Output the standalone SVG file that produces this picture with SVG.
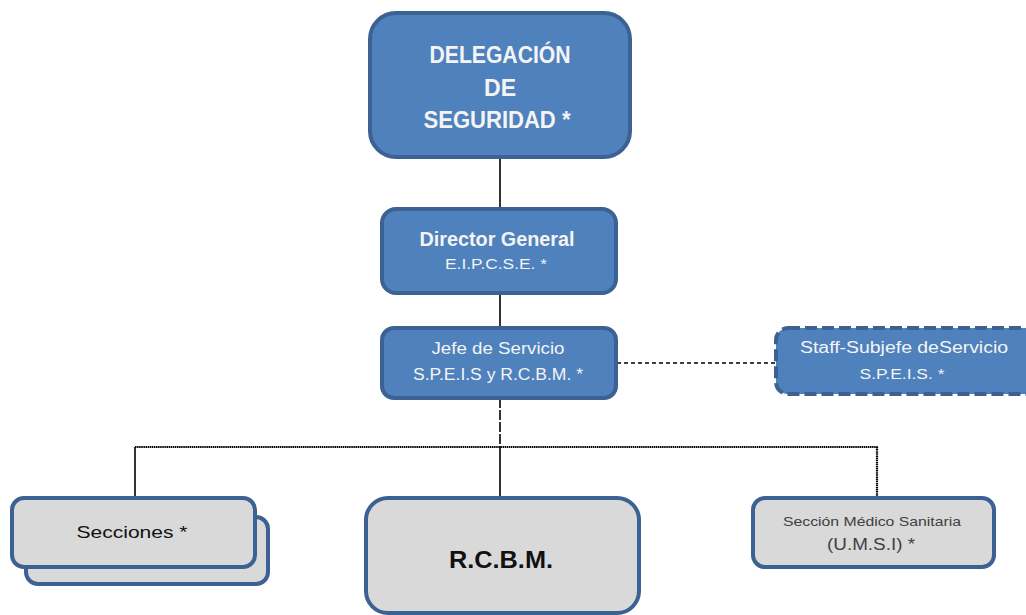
<svg xmlns="http://www.w3.org/2000/svg" width="1026" height="615" viewBox="0 0 1026 615">
<style>
.blue{fill:#4f81bd;stroke:#3b6293;stroke-width:4}
.gray{fill:#d9d9d9;stroke:#3b6293;stroke-width:4}
.ln{stroke:#000;stroke-width:1.6;fill:none}
.dot{stroke:#000;stroke-width:2.2;fill:none;stroke-dasharray:1.5 0.6}
.w{fill:#f4f4f4;font-family:"Liberation Sans",Arial,sans-serif;text-anchor:middle}
.k{fill:#111;font-family:"Liberation Sans",Arial,sans-serif;text-anchor:middle}
.b{font-weight:bold}
</style>
<rect width="1026" height="615" fill="#fff"/>
<g id="connectors">
<line class="ln" x1="500" y1="158" x2="500" y2="208"/>
<line class="ln" x1="500" y1="294" x2="500" y2="327"/>
<line class="ln" x1="617" y1="363" x2="775" y2="363" stroke-dasharray="4 3"/>
<line class="ln" x1="500" y1="398" x2="500" y2="447" stroke-dasharray="10 2"/>
<line class="dot" x1="135" y1="447" x2="878" y2="447"/>
<line class="ln" x1="135" y1="447" x2="135" y2="497"/>
<line class="ln" x1="500" y1="447" x2="500" y2="497"/>
<line class="dot" x1="877" y1="447" x2="877" y2="497"/>
</g>
<g id="delegacion">
<rect class="blue" x="370" y="13" width="260" height="144" rx="26"/>
<text class="w b" x="500" y="63" font-size="23" textLength="141" lengthAdjust="spacingAndGlyphs">DELEGACIÓN</text>
<text class="w b" x="500" y="96" font-size="23" textLength="32" lengthAdjust="spacingAndGlyphs">DE</text>
<text class="w b" x="497" y="128" font-size="23" textLength="147" lengthAdjust="spacingAndGlyphs">SEGURIDAD *</text>
</g>
<g id="director">
<rect class="blue" x="382" y="209" width="234" height="84" rx="14"/>
<text class="w b" x="497" y="246" font-size="20" textLength="155" lengthAdjust="spacingAndGlyphs">Director General</text>
<text class="w" x="496" y="269" font-size="15" textLength="102" lengthAdjust="spacingAndGlyphs">E.I.P.C.S.E. *</text>
</g>
<g id="jefe">
<rect class="blue" x="382" y="328" width="234" height="70" rx="12"/>
<text class="w" x="498" y="354" font-size="17" textLength="133" lengthAdjust="spacingAndGlyphs">Jefe de Servicio</text>
<text class="w" x="498" y="380" font-size="16" textLength="170" lengthAdjust="spacingAndGlyphs">S.P.E.I.S y R.C.B.M. *</text>
</g>
<g id="staff">
<rect class="blue" x="776" y="328" width="262" height="66" rx="12" stroke-dasharray="12 5"/>
<text class="w" x="904" y="353" font-size="16" textLength="208" lengthAdjust="spacingAndGlyphs">Staff-Subjefe deServicio</text>
<text class="w" x="902" y="379" font-size="15" textLength="85" lengthAdjust="spacingAndGlyphs">S.P.E.I.S. *</text>
</g>
<g id="secciones">
<rect class="gray" x="26" y="517" width="242" height="67" rx="12"/>
<rect class="gray" x="12" y="498" width="243" height="69" rx="12"/>
<text class="k" x="132" y="538" font-size="17" textLength="111" lengthAdjust="spacingAndGlyphs">Secciones *</text>
</g>
<g id="rcbm">
<rect class="gray" x="366" y="498" width="273" height="115" rx="22"/>
<text class="k b" x="501" y="568" font-size="24" textLength="104" lengthAdjust="spacingAndGlyphs">R.C.B.M.</text>
</g>
<g id="medico">
<rect class="gray" x="753" y="498" width="241" height="69" rx="12"/>
<text class="k" x="872" y="526" font-size="13" style="fill:#404040" textLength="178" lengthAdjust="spacingAndGlyphs">Sección Médico Sanitaria</text>
<text class="k" x="871" y="550" font-size="16" style="fill:#404040" textLength="88" lengthAdjust="spacingAndGlyphs">(U.M.S.I) *</text>
</g>
</svg>
